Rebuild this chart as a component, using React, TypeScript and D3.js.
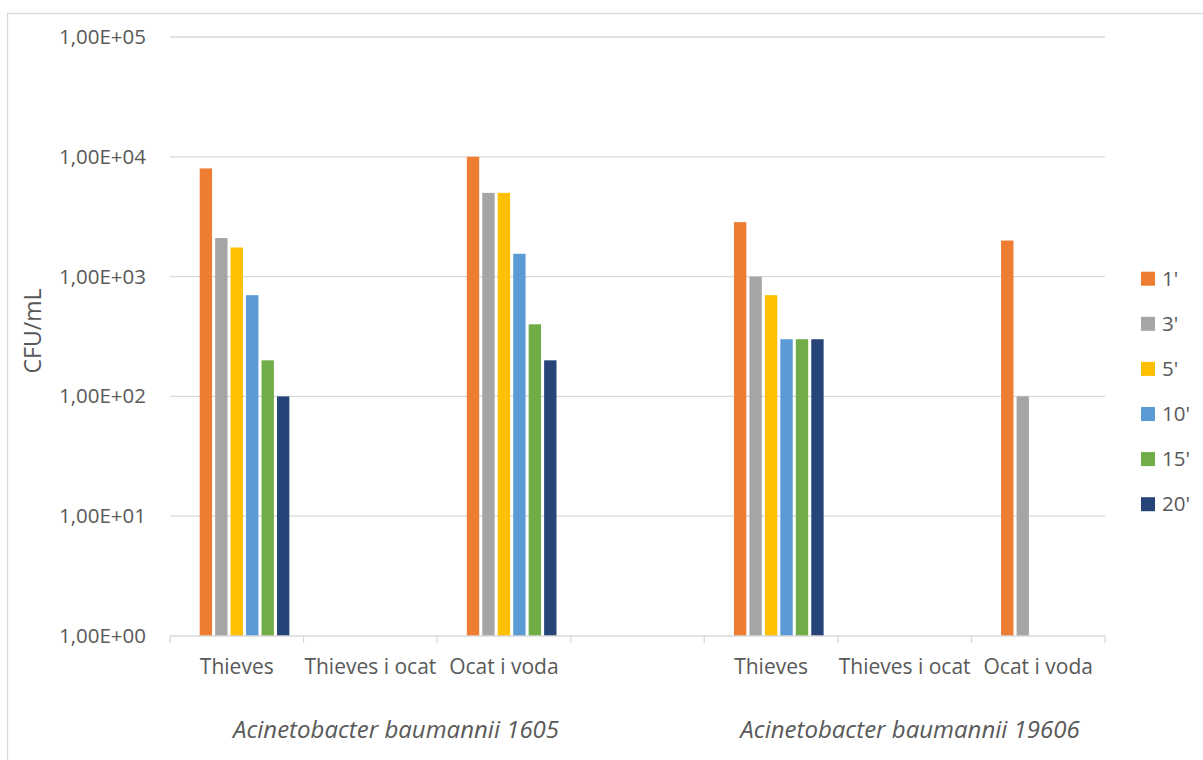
import React from "react";
import * as d3 from "d3";

const categories = ["Thieves", "Thieves i ocat", "Ocat i voda", "", "Thieves", "Thieves i ocat", "Ocat i voda"];
const groups = ["Acinetobacter baumannii 1605", "Acinetobacter baumannii 19606"];
const seriesNames = ["1'", "3'", "5'", "10'", "15'", "20'"];
const seriesColors = ["#ED7D31", "#A5A5A5", "#FFC000", "#5B9BD5", "#70AD47", "#264478"];
const s1 = [8000, null, 10000, null, 2850, null, 2000];
const s3 = [2100, null, 5000, null, 1000, null, 100];
const s5 = [1750, null, 5000, null, 700, null, null];
const s10 = [700, null, 1550, null, 300, null, null];
const s15 = [200, null, 400, null, 300, null, null];
const s20 = [100, null, 200, null, 300, null, null];
const seriesValues = [s1, s3, s5, s10, s15, s20];
const yTicks = [1, 10, 100, 1000, 10000, 100000];

const W = 1203;
const H = 760;
const FONT = "'Open Sans', 'Liberation Sans', sans-serif";
const TXT = "#595959";
const GRID = "#d9d9d9";

export default function App() {
  const left = 170, right = 1105, top = 37, bottom = 636;
  const x = d3.scaleBand<number>().domain(categories.map((_, i) => i)).range([left, right]).padding(0);
  // one hidden leading slot, as in the source chart
  const slots = ["_hidden", ...seriesNames];
  const xs = d3.scaleBand<string>().domain(slots).range([0, x.bandwidth()]).paddingInner(0.2).paddingOuter(0.92);
  const y = d3.scaleLog().domain([1, 100000]).range([bottom, top]);
  const fmt = (v: number) => "1,00E+" + String(Math.round(Math.log10(v))).padStart(2, "0");

  const groupCenters = [396, 910];

  return (
    <svg width={W} height={H} style={{ position: "absolute", left: 0, top: 0, background: "#fff" }} fontFamily={FONT}>
      <rect x={7.5} y={13.5} width={W + 20} height={H + 20} fill="#fff" stroke={GRID} strokeWidth={1.3} />
      {yTicks.map((t) => (
        <g key={t}>
          {t > 1 && <line x1={left} x2={right} y1={y(t)} y2={y(t)} stroke={GRID} strokeWidth={1.3} />}
          <text x={146} y={y(t)} dy={7} textAnchor="end" fontSize={20.5} fill={TXT}>{fmt(t)}</text>
        </g>
      ))}
      {seriesValues.map((vals, si) =>
        vals.map((v, ci) =>
          v == null ? null : (
            <rect
              key={si + "-" + ci}
              x={(x(ci) as number) + (xs(seriesNames[si]) as number)}
              y={y(v)}
              width={xs.bandwidth()}
              height={bottom - y(v)}
              fill={seriesColors[si]}
            />
          )
        )
      )}
      <line x1={left} x2={right} y1={bottom} y2={bottom} stroke={GRID} strokeWidth={1.3} />
      {d3.range(categories.length + 1).map((i) => {
        const xx = left + i * x.step();
        return <line key={i} x1={xx} x2={xx} y1={bottom} y2={bottom + 7} stroke={GRID} strokeWidth={1.3} />;
      })}
      {categories.map((c, i) => (
        <text key={i} x={(x(i) as number) + x.bandwidth() / 2} y={674} textAnchor="middle" fontSize={21} fill={TXT}>{c}</text>
      ))}
      {groups.map((g, i) => (
        <text key={g} x={groupCenters[i]} y={738} textAnchor="middle" fontSize={24} fontStyle="italic" fill={TXT}>{g}</text>
      ))}
      <text transform={`translate(41,331) rotate(-90)`} textAnchor="middle" fontSize={23} fill={TXT}>CFU/mL</text>
      {seriesNames.map((s, i) => {
        const cy = 278.7 + i * 45.1;
        return (
          <g key={s}>
            <rect x={1141} y={cy - 7} width={14} height={14} fill={seriesColors[i]} />
            <text x={1162} y={cy + 7} fontSize={20.5} fill={TXT}>{s}</text>
          </g>
        );
      })}
    </svg>
  );
}
